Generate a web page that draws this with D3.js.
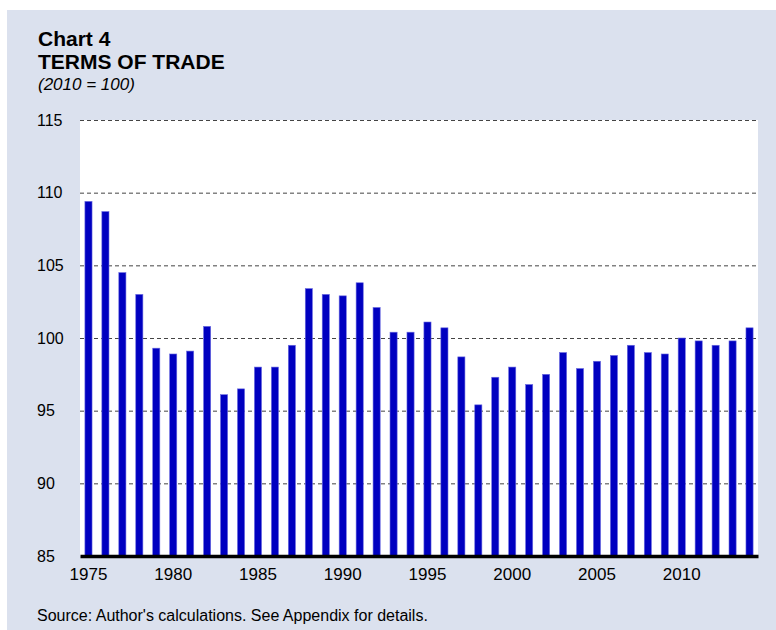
<!DOCTYPE html>
<html>
<head>
<meta charset="utf-8">
<script src="https://cdn.jsdelivr.net/npm/d3@7"></script>
<style>
  html, body { margin: 0; padding: 0; background: #ffffff; }
  svg text { font-family: Arial, "Liberation Sans", sans-serif; fill: #000; }
</style>
</head>
<body>
<div id="chart"></div>
<script>
// terms of trade, 2010 = 100
var years = d3.range(1975, 2015);
var values = [109.4, 108.7, 104.5, 103.0, 99.3, 98.9, 99.1, 100.8, 96.1, 96.5,
              98.0, 98.0, 99.5, 103.4, 103.0, 102.9, 103.8, 102.1, 100.4, 100.4,
              101.1, 100.7, 98.7, 95.4, 97.3, 98.0, 96.8, 97.5, 99.0, 97.9,
              98.4, 98.8, 99.5, 99.0, 98.9, 100.0, 99.8, 99.5, 99.8, 100.7];
var yTicks = [85, 90, 95, 100, 105, 110, 115];
var xLabels = [1975, 1980, 1985, 1990, 1995, 2000, 2005, 2010];

var W = 776, H = 630;
var margin = { top: 120, right: 18, bottom: 74, left: 80 },
    w = W - margin.left - margin.right,
    h = H - margin.top - margin.bottom;

var svg = d3.select("#chart").append("svg")
    .attr("width", W)
    .attr("height", H);

// light blue panel behind everything
svg.append("rect")
    .attr("x", 7).attr("y", 10)
    .attr("width", W - 7).attr("height", H - 10)
    .attr("fill", "#dbe1ee");

svg.append("text").attr("x", 38).attr("y", 46)
    .style("font-size", "21px").style("font-weight", "bold")
    .text("Chart 4");
svg.append("text").attr("x", 38).attr("y", 69)
    .style("font-size", "21px").style("font-weight", "bold")
    .text("TERMS OF TRADE");
svg.append("text").attr("x", 38).attr("y", 90)
    .style("font-size", "17px").style("font-style", "italic")
    .text("(2010 = 100)");

var g = svg.append("g")
    .attr("transform", `translate(${margin.left},${margin.top})`);

g.append("rect")
    .attr("width", w).attr("height", h)
    .attr("fill", "#ffffff");

var x = d3.scaleBand()
    .domain(years)
    .range([0, w])
    .paddingInner(0.58)
    .paddingOuter(0.29);

var y = d3.scaleLinear()
    .domain([85, 115])
    .range([h, 0]);

// dashed gridlines
g.append("g")
    .selectAll("line")
    .data(yTicks.filter(d => d > 85))
    .enter()
    .append("line")
    .attr("x1", 0).attr("x2", w)
    .attr("y1", d => y(d) + 0.5).attr("y2", d => y(d) + 0.5)
    .attr("stroke", "#444")
    .attr("stroke-width", 1)
    .attr("stroke-dasharray", "4,3");

g.selectAll(".bar")
    .data(values)
    .enter()
    .append("rect")
    .attr("class", "bar")
    .attr("x", (d, i) => x(years[i]))
    .attr("y", d => y(d))
    .attr("width", x.bandwidth())
    .attr("height", d => h - y(d))
    .attr("fill", "#0000c0")
    .attr("stroke", "#6a6ae0")
    .attr("stroke-width", 0.6);

// y axis labels
var yAxis = g.append("g")
    .call(d3.axisLeft(y).tickValues(yTicks).tickSize(0).tickPadding(16));
yAxis.select(".domain").remove();
yAxis.selectAll("text")
    .attr("text-anchor", "start")
    .attr("x", -43)
    .style("font-size", "16px")
    .style("font-family", "Arial, 'Liberation Sans', sans-serif");

// x axis
var xAxis = g.append("g")
    .attr("transform", `translate(0,${h})`)
    .call(d3.axisBottom(x).tickValues(xLabels).tickSize(0).tickPadding(12));
xAxis.select(".domain")
    .attr("stroke", "#000")
    .attr("stroke-width", 3.5);
xAxis.selectAll("text")
    .style("font-size", "17px")
    .style("font-family", "Arial, 'Liberation Sans', sans-serif");

svg.append("text").attr("x", 37).attr("y", 621)
    .style("font-size", "16px")
    .text("Source: Author's calculations. See Appendix for details.");
</script>
</body>
</html>
